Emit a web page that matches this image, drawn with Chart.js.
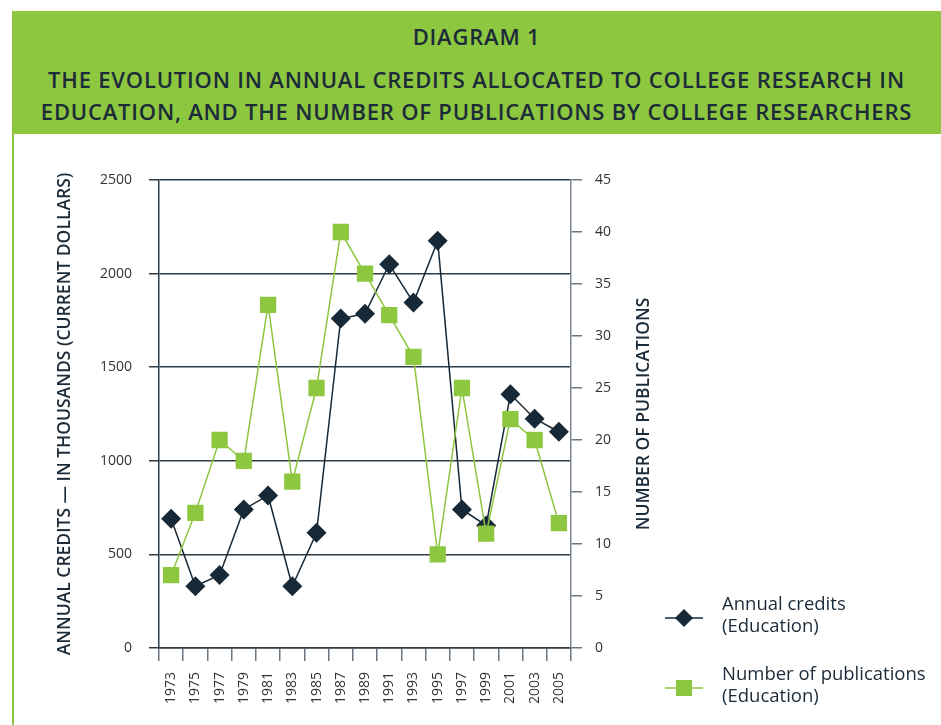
<!DOCTYPE html>
<html>
<head>
<meta charset="utf-8">
<script src="https://cdn.jsdelivr.net/npm/chart.js@4/dist/chart.umd.min.js"></script>
<style>
  html, body { margin: 0; padding: 0; background: #fff; }
  body { width: 941px; height: 725px; position: relative; overflow: hidden; font-family: "Open Sans", sans-serif; }
  #header { position: absolute; left: 12px; top: 11px; width: 929px; height: 123px; background: #8DC63F; color: #1C2B39; text-align: center; font-weight: 600; font-size: 22px; letter-spacing: 0.8px; }
  #header .d { position: absolute; left: 0; right: 0; top: 10px; line-height: 30px; }
  #header .t { position: absolute; left: 0; right: 0; top: 52px; line-height: 32px; }
  #border { position: absolute; left: 12px; top: 134px; width: 2px; height: 600px; background: #8DC63F; }
  #wrap { position: absolute; left: 0; top: 0; width: 941px; height: 725px; }
</style>
</head>
<body>
<div id="header">
  <div class="d">DIAGRAM 1</div>
  <div class="t">THE EVOLUTION IN ANNUAL CREDITS ALLOCATED TO COLLEGE RESEARCH IN<br>EDUCATION, AND THE NUMBER OF PUBLICATIONS BY COLLEGE RESEARCHERS</div>
</div>
<div id="border"></div>
<div id="wrap"><canvas id="c"></canvas></div>
<script>
const years = ['1973','1975','1977','1979','1981','1983','1985','1987','1989','1991','1993','1995','1997','1999','2001','2003','2005'];
const annualCredits = [690, 330, 390, 740, 815, 330, 615, 1760, 1785, 2050, 1845, 2175, 740, 655, 1355, 1225, 1155];
const publications = [7, 13, 20, 18, 33, 16, 25, 40, 36, 32, 28, 9, 25, 11, 22, 20, 12];
const creditsLabel = ['Annual credits', '(Education)'];
const pubsLabel = ['Number of publications', '(Education)'];
const leftTitle = 'ANNUAL CREDITS — IN THOUSANDS (CURRENT DOLLARS)';
const rightTitle = 'NUMBER OF PUBLICATIONS';

const DARK = '#172836';
const GREEN = '#8DC63F';
const TEXT = '#1C2B39';

const legendPlugin = {
  id: 'sideLegend',
  afterDraw(chart) {
    const ctx = chart.ctx;
    const a = chart.chartArea;
    ctx.save();
    // right axis title, reading bottom-to-top
    ctx.translate(a.right + 73, (a.top + a.bottom) / 2);
    ctx.rotate(-Math.PI / 2);
    ctx.fillStyle = TEXT;
    ctx.font = '600 17.5px "Open Sans"';
    ctx.textAlign = 'center';
    ctx.textBaseline = 'middle';
    ctx.fillText(rightTitle, 0, 0);
    ctx.restore();

    const mx = a.right + 113;
    const tx = a.right + 151;
    const items = [
      { y: a.bottom - 30, ds: chart.data.datasets[0], label: creditsLabel, shape: 'diamond' },
      { y: a.bottom + 40, ds: chart.data.datasets[1], label: pubsLabel, shape: 'square' }
    ];
    ctx.save();
    items.forEach(it => {
      ctx.strokeStyle = it.ds.borderColor;
      ctx.lineWidth = 1.5;
      ctx.beginPath();
      ctx.moveTo(mx - 19, it.y);
      ctx.lineTo(mx + 19, it.y);
      ctx.stroke();
      ctx.fillStyle = it.ds.pointBackgroundColor;
      ctx.beginPath();
      if (it.shape === 'diamond') {
        const r = 9;
        ctx.moveTo(mx, it.y - r); ctx.lineTo(mx + r, it.y); ctx.lineTo(mx, it.y + r); ctx.lineTo(mx - r, it.y); ctx.closePath();
      } else {
        ctx.rect(mx - 8, it.y - 8, 16, 16);
      }
      ctx.fill();
      ctx.fillStyle = TEXT;
      ctx.font = '18.5px "Open Sans"';
      ctx.textBaseline = 'middle';
      ctx.textAlign = 'left';
      ctx.fillText(it.label[0], tx, it.y - 13);
      ctx.fillText(it.label[1], tx, it.y + 9);
    });
    ctx.restore();
  }
};

const tickFont = { family: 'Open Sans', size: 14 };

new Chart(document.getElementById('c'), {
  type: 'line',
  data: {
    labels: years,
    datasets: [
      {
        label: creditsLabel.join(' '),
        data: annualCredits,
        yAxisID: 'y',
        borderColor: DARK,
        borderWidth: 1.5,
        pointStyle: 'rectRot',
        pointRadius: 10,
        pointHoverRadius: 10,
        pointBackgroundColor: DARK,
        pointBorderColor: DARK,
        pointBorderWidth: 0,
        tension: 0,
        order: 2
      },
      {
        label: pubsLabel.join(' '),
        data: publications,
        yAxisID: 'y1',
        borderColor: GREEN,
        borderWidth: 1.5,
        pointStyle: 'rect',
        pointRadius: 11.5,
        pointHoverRadius: 11.5,
        pointBackgroundColor: GREEN,
        pointBorderColor: GREEN,
        pointBorderWidth: 0,
        tension: 0,
        order: 1
      }
    ]
  },
  options: {
    responsive: true,
    maintainAspectRatio: false,
    animation: false,
    layout: { padding: { left: 48, right: 284, top: 180, bottom: 0 } },
    plugins: { legend: { display: false }, tooltip: { enabled: false } },
    scales: {
      x: {
        type: 'category',
        offset: true,
        afterFit: s => { s.height = 77; },
        grid: { offset: true, drawOnChartArea: false, drawTicks: true, tickLength: 13, color: '#6b7680', lineWidth: 1.5 },
        border: { display: true, color: '#2d3b47', width: 1.5 },
        ticks: { autoSkip: false, maxRotation: 90, minRotation: 90, padding: 11, color: '#333', font: tickFont }
      },
      y: {
        position: 'left',
        min: 0, max: 2500,
        afterFit: s => { s.width = 111; },
        ticks: { stepSize: 500, padding: 17, color: '#333', font: tickFont, callback: v => String(v) },
        grid: { color: '#2d3b47', lineWidth: 1.5, tickLength: 10 },
        border: { display: true, color: '#2d3b47', width: 1.5 },
        title: { display: true, text: leftTitle, color: TEXT, padding: { top: 7, bottom: 0 }, font: { family: 'Open Sans', size: 17.5, weight: '600' } }
      },
      y1: {
        position: 'right',
        min: 0, max: 45,
        afterFit: s => { s.width = 86; },
        ticks: { stepSize: 5, padding: 13, color: '#333', font: tickFont, callback: v => String(v) },
        grid: { drawOnChartArea: false, color: '#6b7680', lineWidth: 1.5, tickLength: 11 },
        border: { display: true, color: '#7a8590', width: 1.5 }
      }
    }
  },
  plugins: [legendPlugin]
});
</script>
</body>
</html>
